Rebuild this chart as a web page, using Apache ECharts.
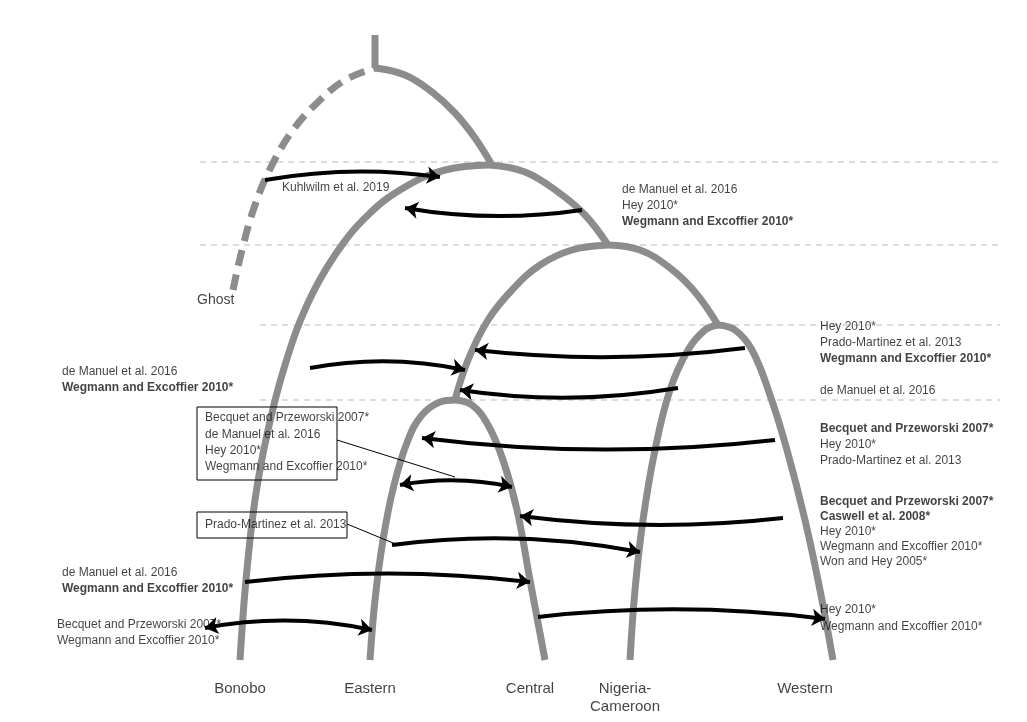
<!DOCTYPE html><html><head><meta charset="utf-8"><script src="https://cdn.jsdelivr.net/npm/echarts@6/dist/echarts.min.js"></script>
<style>html,body{margin:0;background:#fff}#c{width:1027px;height:722px}</style></head><body><div id="c"></div><script>
const branches=[
 {pts:[[375,35],[375,68]],dash:false},
 {pts:[[233,290],[242,250],[255,205],[272,165],[293,130],[318,102],[345,80],[375,68]],dash:true},
 {pts:[[375,68],[405,75],[432,92],[455,113],[475,138],[492,165]],dash:false},
 {pts:[[240,660],[246,580],[255,500],[268,430],[285,365],[307,305],[335,255],[368,215],[405,187],[445,170],[490,165]],dash:false},
 {pts:[[490,165],[525,172],[558,192],[585,215],[608,245]],dash:false},
 {pts:[[455,400],[468,360],[488,320],[512,290],[540,265],[572,250],[608,245]],dash:false},
 {pts:[[608,245],[640,250],[670,268],[695,292],[718,325]],dash:false},
 {pts:[[370,660],[375,600],[383,540],[394,485],[408,440],[422,415],[440,402],[455,400]],dash:false},
 {pts:[[455,400],[472,405],[488,425],[503,460],[517,510],[530,580],[545,660]],dash:false},
 {pts:[[630,660],[635,590],[643,520],[655,450],[670,390],[688,350],[705,330],[718,325]],dash:false},
 {pts:[[718,325],[735,330],[752,350],[770,395],[787,450],[805,520],[820,590],[833,660]],dash:false}
];
const arrows=[
 {from:[265,180],to:[440,177],both:false,c:0.08},
 {from:[582,210],to:[405,208],both:false,c:0.08},
 {from:[310,368],to:[465,370],both:false,c:0.1},
 {from:[745,348],to:[475,350],both:false,c:0.06},
 {from:[678,388],to:[460,390],both:false,c:0.08},
 {from:[775,440],to:[422,438],both:false,c:0.06},
 {from:[400,485],to:[512,487],both:true,c:0.1},
 {from:[783,518],to:[520,516],both:false,c:0.06},
 {from:[392,545],to:[640,552],both:false,c:0.08},
 {from:[245,582],to:[530,582],both:false,c:0.06},
 {from:[205,628],to:[372,630],both:true,c:0.1},
 {from:[538,617],to:[825,619],both:false,c:0.06}
];
const gridLines=[[200,162,1000],[200,245,1000],[260,325,1000],[260,400,1000]];
const tips=["Bonobo","Eastern","Central","Nigeria-\nCameroon","Western"];
const tipX=[240,370,530,625,805];
const notes=[
 [282,188,"Kuhlwilm et al. 2019",false],
 [622,190,"de Manuel et al. 2016",false],[622,206,"Hey 2010*",false],[622,222,"Wegmann and Excoffier 2010*",true],
 [820,327,"Hey 2010*",false],[820,343,"Prado-Martinez et al. 2013",false],[820,359,"Wegmann and Excoffier 2010*",true],
 [820,391,"de Manuel et al. 2016",false],
 [820,429,"Becquet and Przeworski 2007*",true],[820,445,"Hey 2010*",false],[820,461,"Prado-Martinez et al. 2013",false],
 [820,502,"Becquet and Przeworski 2007*",true],[820,517,"Caswell et al. 2008*",true],[820,532,"Hey 2010*",false],[820,547,"Wegmann and Excoffier 2010*",false],[820,562,"Won and Hey 2005*",false],
 [820,610,"Hey 2010*",false],[820,627,"Wegmann and Excoffier 2010*",false],
 [62,372,"de Manuel et al. 2016",false],[62,388,"Wegmann and Excoffier 2010*",true],
 [62,573,"de Manuel et al. 2016",false],[62,589,"Wegmann and Excoffier 2010*",true],
 [57,625,"Becquet and Przeworski 2007*",false],[57,641,"Wegmann and Excoffier 2010*",false],
 [205,418,"Becquet and Przeworski 2007*",false],[205,435,"de Manuel et al. 2016",false],[205,451,"Hey 2010*",false],[205,467,"Wegmann and Excoffier 2010*",false],
 [205,525,"Prado-Martinez et al. 2013",false],
 [197,300,"Ghost",false,14]
];
const boxes=[[197,407,140,73],[197,512,150,26]];
const leaders=[[[337,440],[455,477]],[[347,524],[398,545]]];
const F='"Liberation Sans", Arial, sans-serif';
const series=[];
gridLines.forEach(g=>series.push({type:'line',data:[[g[0],g[1]],[g[2],g[1]]],symbol:'none',silent:true,lineStyle:{color:'#bbb',width:1,type:[6,5]},z:1}));
branches.forEach(b=>series.push({type:'line',data:b.pts,smooth:0.4,symbol:'none',silent:true,lineStyle:{color:'#8c8c8c',width:7,type:b.dash?[16,9]:'solid',cap:'butt',join:'round'},z:2}));
leaders.forEach(l=>series.push({type:'line',data:l,symbol:'none',silent:true,lineStyle:{color:'#000',width:1},z:3}));
series.push({type:'lines',coordinateSystem:'cartesian2d',silent:true,z:4,
 data:arrows.map(a=>({coords:[a.from,a.to],symbol:[a.both?'arrow':'none','arrow'],lineStyle:{curveness:a.c}})),
 symbolSize:13,lineStyle:{color:'#000',width:4,opacity:1}});
series.push({type:'scatter',silent:true,symbolSize:0,z:5,data:notes.map(n=>({value:[n[0],n[1]],label:{show:true,position:'right',distance:0,formatter:n[2],fontFamily:F,fontSize:n[4]||12,fontWeight:n[3]?'bold':'normal',color:'#111'}}))});
series.push({type:'scatter',silent:true,symbolSize:0,z:5,data:tips.map((t,i)=>({value:[tipX[i],680],label:{show:true,position:'bottom',distance:0,formatter:t,fontFamily:F,fontSize:15,color:'#111',align:'center',lineHeight:18}}))});
const chart=echarts.init(document.getElementById('c'));
chart.setOption({animation:false,
 grid:{left:0,right:0,top:0,bottom:0},
 xAxis:{type:'value',min:0,max:1027,show:false},
 yAxis:{type:'value',min:0,max:722,inverse:true,show:false},
 series,
 graphic:boxes.map(b=>({type:'rect',shape:{x:b[0],y:b[1],width:b[2],height:b[3]},style:{fill:null,stroke:'#000',lineWidth:1},z:10}))
});
</script></body></html>
